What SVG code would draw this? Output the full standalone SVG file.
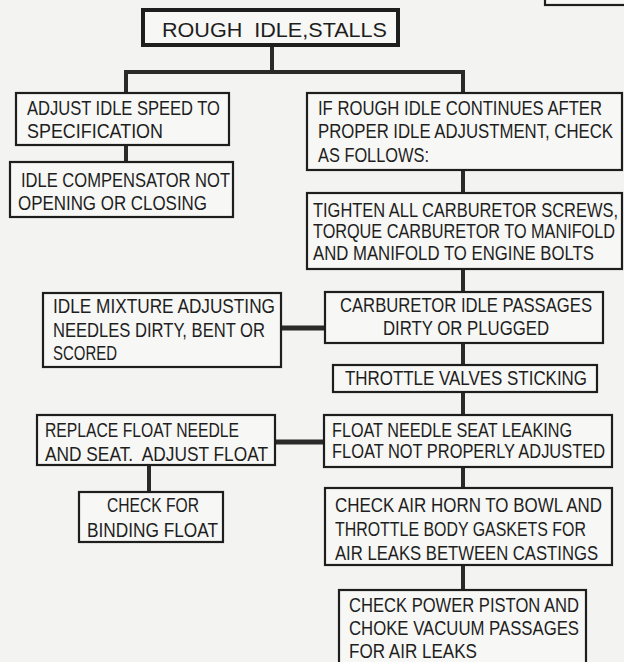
<svg xmlns="http://www.w3.org/2000/svg" width="624" height="662" viewBox="0 0 624 662">
<style>
.bg{fill:#f3f3f1}
.box{fill:#f7f7f5;stroke:#1e1e1e;stroke-width:2.2}
.tbox{fill:#f7f7f5;stroke:#1e1e1e;stroke-width:4}
.c{stroke:#2a2a2a;stroke-width:4;fill:none}
text{font-family:"Liberation Sans",Arial,sans-serif;font-size:19.5px;fill:#1e1e1e}
</style>
<rect class="bg" x="0" y="0" width="624" height="662"/>
<g id="connectors">
<path class="c" d="M272 45V72M124 72H465M126 72V93M463 72V93"/>
<path class="c" d="M126 145V162"/>
<path class="c" d="M463 170V193M463 269V292M463 343V365M463 392V415M463 467V488M463 565V590"/>
<path class="c" d="M281 328H325" style="stroke-width:5"/>
<path class="c" d="M275 442H324" style="stroke-width:5"/>
<path class="c" d="M149 465V492"/>
</g>
<g id="corner"><rect class="box" x="545" y="-20" width="90" height="25"/></g>
<g id="title"><rect class="tbox" x="143" y="10" width="255" height="35"/>
<text x="162" y="37" textLength="225" lengthAdjust="spacingAndGlyphs" xml:space="preserve">ROUGH  IDLE,STALLS</text></g>
<g id="adjust"><rect class="box" x="16" y="93" width="213" height="52"/>
<g transform="scale(0.85 1)">
<text x="31.76" y="115" textLength="227.06" lengthAdjust="spacingAndGlyphs">ADJUST IDLE SPEED TO</text>
<text x="31.76" y="138" textLength="160" lengthAdjust="spacingAndGlyphs">SPECIFICATION</text></g></g>
<g id="compensator"><rect class="box" x="10" y="162" width="223" height="55"/>
<g transform="scale(0.85 1)">
<text x="24.71" y="187" textLength="245.88" lengthAdjust="spacingAndGlyphs">IDLE COMPENSATOR NOT</text>
<text x="21.18" y="210" textLength="222.35" lengthAdjust="spacingAndGlyphs">OPENING OR CLOSING</text></g></g>
<g id="ifrough"><rect class="box" x="307" y="93" width="315" height="77"/>
<g transform="scale(0.85 1)">
<text x="374.12" y="115" textLength="334.12" lengthAdjust="spacingAndGlyphs">IF ROUGH IDLE CONTINUES AFTER</text>
<text x="374.12" y="138" textLength="347.06" lengthAdjust="spacingAndGlyphs">PROPER IDLE ADJUSTMENT, CHECK</text>
<text x="374.12" y="162" textLength="130.59" lengthAdjust="spacingAndGlyphs">AS FOLLOWS:</text></g></g>
<g id="tighten"><rect class="box" x="307" y="193" width="315" height="76"/>
<g transform="scale(0.85 1)">
<text x="368.24" y="217" textLength="358.82" lengthAdjust="spacingAndGlyphs">TIGHTEN ALL CARBURETOR SCREWS,</text>
<text x="368.24" y="238" textLength="355.29" lengthAdjust="spacingAndGlyphs">TORQUE CARBURETOR TO MANIFOLD</text>
<text x="368.24" y="260" textLength="330.59" lengthAdjust="spacingAndGlyphs">AND MANIFOLD TO ENGINE BOLTS</text></g></g>
<g id="passages"><rect class="box" x="325" y="292" width="278" height="51"/>
<g transform="scale(0.85 1)">
<text x="400" y="312" textLength="296.47" lengthAdjust="spacingAndGlyphs">CARBURETOR IDLE PASSAGES</text>
<text x="450.59" y="335" textLength="195.29" lengthAdjust="spacingAndGlyphs">DIRTY OR PLUGGED</text></g></g>
<g id="mixture"><rect class="box" x="43" y="293" width="238" height="74"/>
<g transform="scale(0.85 1)">
<text x="62.35" y="313" textLength="261.18" lengthAdjust="spacingAndGlyphs">IDLE MIXTURE ADJUSTING</text>
<text x="62.35" y="337" textLength="249.41" lengthAdjust="spacingAndGlyphs">NEEDLES DIRTY, BENT OR</text>
<text x="62.35" y="360" textLength="75.29" lengthAdjust="spacingAndGlyphs">SCORED</text></g></g>
<g id="throttle"><rect class="box" x="333" y="365" width="264" height="27"/>
<g transform="scale(0.85 1)">
<text x="405.88" y="385" textLength="284.71" lengthAdjust="spacingAndGlyphs">THROTTLE VALVES STICKING</text></g></g>
<g id="floatseat"><rect class="box" x="324" y="415" width="288" height="52"/>
<g transform="scale(0.85 1)">
<text x="390.59" y="437" textLength="282.35" lengthAdjust="spacingAndGlyphs">FLOAT NEEDLE SEAT LEAKING</text>
<text x="390.59" y="458" textLength="321.18" lengthAdjust="spacingAndGlyphs">FLOAT NOT PROPERLY ADJUSTED</text></g></g>
<g id="replace"><rect class="box" x="37" y="415" width="238" height="50"/>
<g transform="scale(0.85 1)">
<text x="52.94" y="437" textLength="228.24" lengthAdjust="spacingAndGlyphs">REPLACE FLOAT NEEDLE</text>
<text x="52.94" y="461" textLength="262.35" lengthAdjust="spacingAndGlyphs" xml:space="preserve">AND SEAT.  ADJUST FLOAT</text></g></g>
<g id="binding"><rect class="box" x="79" y="492" width="144" height="50"/>
<g transform="scale(0.85 1)">
<text x="125.88" y="512" textLength="108.24" lengthAdjust="spacingAndGlyphs">CHECK FOR</text>
<text x="102.35" y="537" textLength="154.12" lengthAdjust="spacingAndGlyphs">BINDING FLOAT</text></g></g>
<g id="airhorn"><rect class="box" x="325" y="488" width="287" height="77"/>
<g transform="scale(0.85 1)">
<text x="394.12" y="512" textLength="314.12" lengthAdjust="spacingAndGlyphs">CHECK AIR HORN TO BOWL AND</text>
<text x="394.12" y="536" textLength="295.29" lengthAdjust="spacingAndGlyphs">THROTTLE BODY GASKETS FOR</text>
<text x="394.12" y="560" textLength="309.41" lengthAdjust="spacingAndGlyphs">AIR LEAKS BETWEEN CASTINGS</text></g></g>
<g id="powerpiston"><rect class="box" x="339" y="590" width="247" height="80"/>
<g transform="scale(0.85 1)">
<text x="410.59" y="612" textLength="270.59" lengthAdjust="spacingAndGlyphs">CHECK POWER PISTON AND</text>
<text x="410.59" y="635" textLength="270.59" lengthAdjust="spacingAndGlyphs">CHOKE VACUUM PASSAGES</text>
<text x="410.59" y="658" textLength="150.59" lengthAdjust="spacingAndGlyphs">FOR AIR LEAKS</text></g></g>
</svg>
